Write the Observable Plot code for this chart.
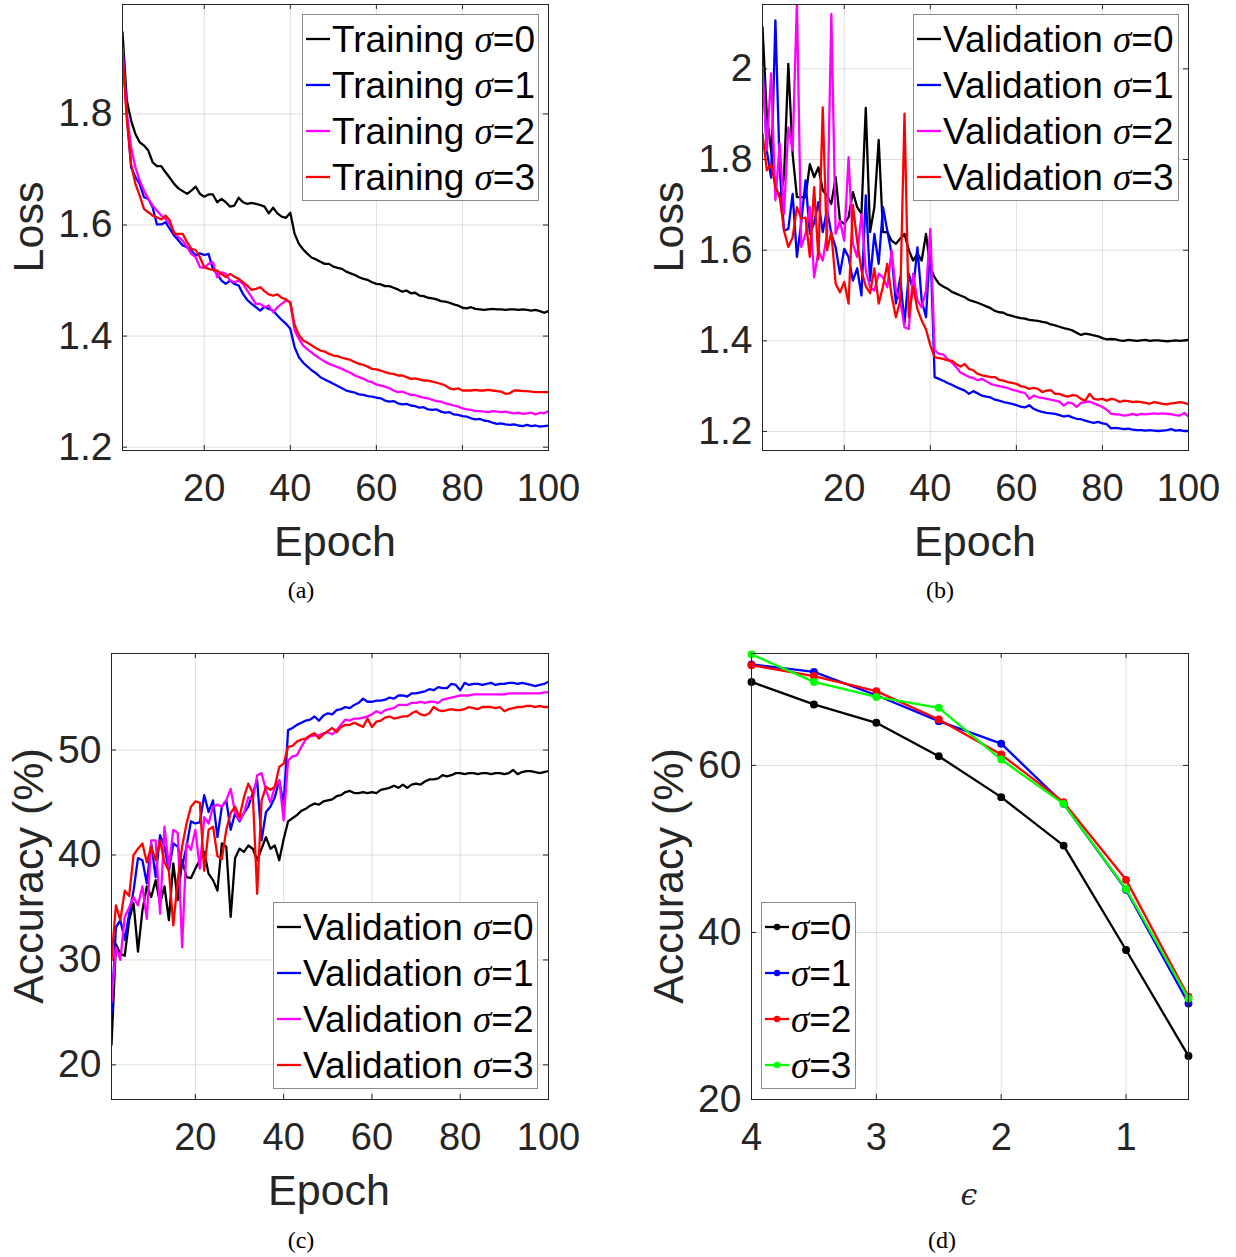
<!DOCTYPE html>
<html><head><meta charset="utf-8">
<script src="https://cdn.jsdelivr.net/npm/d3@7"></script>
<script src="https://cdn.jsdelivr.net/npm/@observablehq/plot@0.6"></script>
<style>
body{margin:0;background:#fff;}
#fig{position:relative;width:1236px;height:1257px;overflow:hidden;font-family:"Liberation Sans",Arial,sans-serif;color:#262626;background:#fff;}
.pn{position:absolute;}
.lab{position:absolute;font-size:43px;white-space:nowrap;line-height:1;transform:translate(-50%,-50%);}
.ylab{transform:translate(-50%,-50%) rotate(-90deg);}
.cap{position:absolute;font-family:"Liberation Serif","DejaVu Serif",serif;font-size:24px;color:#000;line-height:1;transform:translate(-50%,-50%);}
.eps{position:absolute;font-family:"DejaVu Serif",serif;font-style:italic;font-size:30px;color:#262626;line-height:1;transform:translate(-50%,-50%);}
.leg{position:absolute;background:#fff;border:1px solid #8c8c8c;box-sizing:border-box;}
.row{position:absolute;left:0;height:46px;display:flex;align-items:center;font-size:37px;color:#000;white-space:nowrap;line-height:1;}
.sig{font-family:"Liberation Serif","DejaVu Serif",serif;font-style:italic;}
</style></head>
<body><div id="fig"></div>
<script>
// ---------------- data ----------------
const epochs = d3.range(1, 101);

const trainS0 = [1.947,1.824,1.788,1.764,1.749,1.743,1.734,1.713,1.706,1.706,
1.695,1.685,1.674,1.666,1.661,1.656,1.662,1.669,1.656,1.651,
1.655,1.655,1.641,1.647,1.641,1.633,1.635,1.649,1.641,1.638,
1.640,1.638,1.636,1.633,1.621,1.631,1.621,1.615,1.613,1.622,
1.584,1.566,1.556,1.548,1.541,1.538,1.534,1.530,1.530,1.525,
1.523,1.521,1.516,1.513,1.510,1.506,1.503,1.501,1.497,1.494,
1.493,1.490,1.490,1.487,1.484,1.480,1.482,1.477,1.478,1.473,
1.472,1.469,1.468,1.466,1.463,1.462,1.460,1.457,1.455,1.451,
1.450,1.452,1.449,1.448,1.447,1.448,1.449,1.448,1.448,1.447,
1.448,1.448,1.447,1.448,1.447,1.446,1.447,1.445,1.442,1.445];

const trainS1 = [1.921,1.800,1.704,1.686,1.674,1.650,1.647,1.632,1.601,1.601,
1.605,1.593,1.581,1.572,1.563,1.560,1.554,1.545,1.549,1.546,
1.548,1.521,1.512,1.500,1.494,1.500,1.494,1.491,1.476,1.465,
1.458,1.452,1.446,1.453,1.449,1.446,1.437,1.429,1.422,1.413,
1.380,1.362,1.352,1.345,1.338,1.333,1.326,1.322,1.318,1.314,
1.310,1.306,1.302,1.300,1.298,1.295,1.294,1.292,1.291,1.289,
1.288,1.284,1.282,1.283,1.279,1.277,1.278,1.275,1.274,1.271,
1.272,1.268,1.267,1.268,1.264,1.262,1.263,1.259,1.258,1.256,
1.255,1.252,1.250,1.251,1.248,1.247,1.244,1.242,1.243,1.241,
1.240,1.241,1.239,1.238,1.240,1.238,1.239,1.237,1.238,1.239];

const trainS2 = [1.918,1.800,1.740,1.704,1.680,1.662,1.647,1.635,1.626,1.617,
1.611,1.602,1.587,1.578,1.572,1.560,1.548,1.542,1.524,1.523,
1.530,1.533,1.506,1.515,1.512,1.500,1.497,1.500,1.494,1.482,
1.470,1.458,1.458,1.452,1.455,1.443,1.452,1.458,1.464,1.461,
1.410,1.395,1.383,1.376,1.370,1.364,1.359,1.354,1.350,1.347,
1.344,1.341,1.337,1.334,1.329,1.326,1.323,1.319,1.317,1.313,
1.311,1.309,1.306,1.302,1.299,1.300,1.297,1.294,1.294,1.291,
1.289,1.288,1.285,1.283,1.282,1.279,1.277,1.275,1.273,1.270,
1.268,1.267,1.265,1.265,1.264,1.263,1.265,1.264,1.263,1.264,
1.262,1.261,1.262,1.260,1.261,1.262,1.259,1.262,1.261,1.265];

const trainS3 = [1.910,1.790,1.710,1.674,1.653,1.629,1.623,1.617,1.614,1.610,
1.617,1.608,1.584,1.584,1.584,1.569,1.557,1.555,1.542,1.524,
1.521,1.519,1.518,1.512,1.506,1.512,1.507,1.503,1.497,1.491,
1.483,1.485,1.488,1.481,1.475,1.473,1.475,1.469,1.466,1.460,
1.420,1.402,1.392,1.388,1.383,1.378,1.374,1.372,1.368,1.365,
1.364,1.361,1.359,1.357,1.353,1.350,1.348,1.345,1.341,1.340,
1.338,1.335,1.333,1.332,1.329,1.329,1.326,1.323,1.324,1.322,
1.320,1.320,1.318,1.316,1.314,1.311,1.306,1.304,1.306,1.302,
1.302,1.302,1.303,1.302,1.302,1.303,1.302,1.301,1.300,1.296,
1.297,1.302,1.302,1.301,1.301,1.300,1.299,1.299,1.299,1.299];

const valLossS0 = [2.092,1.900,1.820,1.740,1.717,1.760,2.011,1.812,1.717,1.717,
1.717,1.790,1.761,1.783,1.732,1.720,1.702,1.761,1.665,1.658,
1.673,1.728,1.695,1.680,1.914,1.640,1.695,1.843,1.640,1.640,
1.621,1.614,1.625,1.636,1.600,1.577,1.592,1.577,1.636,1.562,
1.540,1.526,1.520,1.515,1.508,1.504,1.500,1.496,1.490,1.487,
1.484,1.480,1.476,1.472,1.466,1.463,1.462,1.457,1.455,1.452,
1.450,1.449,1.446,1.445,1.444,1.442,1.440,1.436,1.434,1.431,
1.428,1.426,1.423,1.418,1.413,1.416,1.414,1.412,1.410,1.406,
1.403,1.404,1.403,1.401,1.400,1.402,1.401,1.400,1.401,1.402,
1.400,1.401,1.401,1.400,1.399,1.400,1.401,1.400,1.401,1.402];

const valLossS1 = [2.015,1.820,1.760,2.107,1.780,1.643,1.647,1.724,1.585,1.660,
1.754,1.636,1.660,1.706,1.640,1.690,1.636,1.606,1.548,1.603,
1.585,1.533,1.560,1.500,1.721,1.533,1.636,1.570,1.695,1.643,
1.592,1.482,1.540,1.438,1.548,1.511,1.606,1.489,1.452,1.621,
1.320,1.316,1.312,1.307,1.303,1.298,1.294,1.290,1.283,1.289,
1.284,1.279,1.277,1.275,1.270,1.268,1.265,1.263,1.261,1.258,
1.255,1.253,1.258,1.250,1.246,1.243,1.241,1.240,1.239,1.236,
1.233,1.235,1.231,1.228,1.227,1.224,1.221,1.219,1.221,1.218,
1.216,1.207,1.208,1.207,1.205,1.206,1.204,1.203,1.203,1.202,
1.203,1.202,1.201,1.202,1.203,1.205,1.202,1.203,1.201,1.201];

const valLossS2 = [2.004,1.820,1.990,1.710,1.835,1.680,1.871,1.820,2.150,1.607,
1.636,1.695,1.540,1.599,1.577,1.636,2.121,1.636,1.665,1.621,
1.805,1.614,1.585,1.680,1.555,1.518,1.511,1.548,1.540,1.518,
1.599,1.511,1.489,1.430,1.426,1.548,1.489,1.474,1.511,1.647,
1.379,1.371,1.370,1.360,1.352,1.342,1.330,1.325,1.320,1.318,
1.313,1.316,1.311,1.305,1.302,1.300,1.298,1.296,1.292,1.290,
1.287,1.285,1.272,1.279,1.276,1.274,1.272,1.270,1.268,1.266,
1.257,1.264,1.262,1.254,1.263,1.265,1.266,1.262,1.258,1.254,
1.248,1.239,1.238,1.237,1.235,1.236,1.239,1.236,1.239,1.238,
1.239,1.240,1.239,1.240,1.239,1.238,1.236,1.235,1.241,1.233];

const valLossS3 = [1.857,1.776,1.790,1.739,1.717,1.643,1.607,1.628,1.695,1.670,
1.672,1.585,1.739,1.580,1.915,1.600,1.640,1.526,1.507,1.530,
1.482,1.700,1.620,1.555,1.520,1.505,1.560,1.482,1.520,1.570,
1.500,1.452,1.489,1.901,1.452,1.520,1.470,1.445,1.425,1.390,
1.364,1.362,1.360,1.357,1.356,1.349,1.343,1.349,1.338,1.335,
1.327,1.324,1.322,1.320,1.320,1.314,1.312,1.309,1.307,1.305,
1.300,1.298,1.294,1.296,1.294,1.287,1.290,1.291,1.283,1.283,
1.279,1.277,1.280,1.279,1.272,1.268,1.283,1.272,1.270,1.272,
1.268,1.272,1.270,1.265,1.268,1.267,1.265,1.266,1.265,1.263,
1.261,1.265,1.263,1.261,1.260,1.262,1.263,1.265,1.263,1.260];

const valAccS0 = [21.9,31.5,30.6,30.4,33.8,35.4,30.8,34.7,37.0,36.0,
37.6,35.4,37.0,33.8,39.2,35.7,39.5,37.9,37.8,38.7,
39.5,40.3,38.2,37.6,36.6,41.1,40.8,34.1,39.7,40.6,
40.3,40.9,40.6,39.5,40.6,41.7,40.6,40.9,39.5,41.5,
43.2,43.5,43.8,44.2,44.4,44.7,44.9,44.8,45.1,45.2,
45.3,45.6,45.7,46.0,46.1,45.9,45.9,46.0,45.9,46.0,
45.9,46.2,46.3,46.4,46.6,46.4,46.7,46.4,46.7,46.8,
46.7,47.0,47.2,47.2,47.3,47.6,47.5,47.6,47.8,47.8,
47.7,47.8,47.8,47.7,47.8,47.8,47.7,47.8,47.8,47.7,
47.8,48.1,47.7,47.9,48.0,48.0,47.9,47.8,47.9,48.0];

const valAccS1 = [24.9,33.1,33.8,31.9,34.4,36.6,39.7,39.5,37.3,41.1,
37.9,41.9,40.8,38.5,41.1,40.8,38.9,40.8,43.2,43.0,
43.1,45.7,44.1,45.2,41.7,44.6,45.2,42.4,44.0,43.2,
44.0,44.6,45.9,47.1,41.4,44.1,44.6,45.5,47.1,44.8,
51.9,52.1,52.4,52.6,52.8,52.9,53.2,52.8,53.3,53.5,
53.4,53.8,53.9,54.1,54.0,54.3,54.5,54.9,54.6,54.6,
54.7,54.7,54.8,55.0,54.9,55.2,55.2,55.1,55.4,55.4,
55.5,55.6,55.8,55.7,56.0,55.9,55.9,56.3,56.2,55.7,
56.4,56.2,56.3,56.3,56.2,56.3,56.4,56.2,56.3,56.3,
56.4,56.4,56.3,56.4,56.3,56.2,56.1,56.2,56.3,56.5];

const valAccS2 = [26.0,31.2,30.0,34.1,35.0,36.0,35.2,37.0,33.9,41.4,
41.4,34.4,42.7,38.9,42.4,42.1,31.2,41.1,40.5,42.4,
38.7,43.6,43.0,44.6,44.8,44.6,45.2,46.3,44.0,43.3,
44.0,45.5,45.3,47.6,47.8,46.2,45.0,46.5,47.1,43.3,
49.0,49.4,49.5,50.3,51.0,51.3,51.4,51.4,51.6,51.7,
51.5,51.9,52.4,52.9,52.8,53.0,53.0,53.1,53.2,53.4,
53.7,53.5,53.8,53.9,54.0,54.3,54.3,54.3,54.5,54.5,
54.6,54.5,54.6,54.6,54.5,54.8,54.9,55.0,55.1,55.2,
55.2,55.2,55.3,55.3,55.3,55.3,55.3,55.3,55.3,55.3,
55.4,55.4,55.4,55.4,55.4,55.4,55.4,55.4,55.5,55.5];

const valAccS3 = [30.0,35.2,33.8,36.6,36.1,40.0,40.6,41.1,39.3,40.8,
39.5,41.4,39.3,38.5,33.3,37.6,40.8,43.0,44.6,45.1,
45.0,38.5,42.4,42.7,39.9,39.6,42.4,44.0,44.6,43.6,
45.5,46.8,45.9,36.3,45.2,46.5,46.2,46.5,48.4,48.7,
50.3,50.4,50.8,51.0,51.1,51.4,51.6,51.1,51.5,51.8,
52.1,51.7,52.2,52.4,52.4,52.6,52.4,52.2,53.0,52.2,
52.7,52.8,53.1,53.2,53.0,53.1,53.2,53.2,53.5,53.7,
53.4,53.3,53.5,54.1,53.8,53.7,53.8,53.9,53.8,53.8,
53.9,54.1,54.0,53.9,54.1,54.1,54.1,54.0,54.1,53.7,
53.9,54.0,54.1,54.1,54.2,54.2,54.1,54.2,54.1,54.1];

const epsValues = [4, 3.5, 3, 2.5, 2, 1.5, 1, 0.5];
const advAccS0 = [70.0, 67.3, 65.1, 61.1, 56.2, 50.4, 37.9, 25.2];
const advAccS1 = [72.1, 71.2, 68.4, 65.3, 62.6, 55.4, 45.1, 31.5];
const advAccS2 = [72.0, 70.7, 68.9, 65.5, 61.3, 55.6, 46.3, 32.3];
const advAccS3 = [73.3, 70.0, 68.2, 66.9, 60.7, 55.4, 45.2, 32.1];

const epochTicks = [20, 40, 60, 80, 100];
const lossTicksA = [1.2, 1.4, 1.6, 1.8];
const lossTicksB = [1.2, 1.4, 1.6, 1.8, 2];
const accTicksC = [20, 30, 40, 50];
const epsTicks = [4, 3, 2, 1];
const accTicksD = [20, 40, 60];
const sigmaLabels = ["0", "1", "2", "3"];

// ---------------- styles ----------------
const col4 = ["#000000", "#0000ff", "#ff00ff", "#ff0000"];
const colD = ["#000000", "#0000ff", "#ff0000", "#00ff00"];

const toRows = (xs, ys) => ys.map((y, i) => ({x: xs[i], y}));

function makePanel(cfg) {
  const {w, h, ml, mr, mt, mb, xdom, ydom, xt, yt, yfmt, series, clip, dots} = cfg;
  const pw = w - ml - mr, ph = h - mt - mb;
  const xs = d3.scaleLinear().domain(xdom).range([0, pw]);
  const ys = d3.scaleLinear().domain(ydom).range([ph, 0]);
  const T = 5;
  const tk = {stroke: "#262626", strokeWidth: 1};
  const marks = [
    Plot.gridX(xt, {stroke: "#000", strokeOpacity: 0.13}),
    Plot.gridY(yt, {stroke: "#000", strokeOpacity: 0.13}),
    Plot.ruleX(xt, {x: d => d, y1: ydom[0], y2: ys.invert(ph - T), ...tk}),
    Plot.ruleX(xt, {x: d => d, y1: ydom[1], y2: ys.invert(T), ...tk}),
    Plot.ruleY(yt, {y: d => d, x1: xdom[0], x2: xs.invert(T), ...tk}),
    Plot.ruleY(yt, {y: d => d, x1: xdom[1], x2: xs.invert(pw - T), ...tk}),
    Plot.axisX(xt, {anchor: "bottom", tickSize: 0, tickPadding: 24, fontSize: 38, tickFormat: d => String(d), label: null}),
    Plot.axisY(yt, {anchor: "left", tickSize: 0, tickPadding: 10, fontSize: 39, tickFormat: yfmt, label: null})
  ];
  series.forEach(s => {
    marks.push(Plot.line(s.data, {x: "x", y: "y", stroke: s.color, strokeWidth: 2.3, clip}));
    if (dots) marks.push(Plot.dot(s.data, {x: "x", y: "y", fill: s.color, stroke: s.color, r: 3.2}));
  });
  marks.push(Plot.frame({stroke: "#262626", strokeWidth: 1}));
  return Plot.plot({
    width: w, height: h,
    marginLeft: ml, marginRight: mr, marginTop: mt, marginBottom: mb,
    x: {domain: xdom}, y: {domain: ydom},
    style: {fontFamily: "'Liberation Sans', Arial, sans-serif", color: "#262626", background: "transparent", overflow: "visible"},
    marks
  });
}

const fig = document.getElementById("fig");
function place(node, left, top) {
  const d = document.createElement("div");
  d.className = "pn";
  d.style.left = left + "px"; d.style.top = top + "px";
  d.appendChild(node);
  fig.appendChild(d);
}
function text(cls, str, x, y) {
  const d = document.createElement("div");
  d.className = cls;
  d.style.left = x + "px"; d.style.top = y + "px";
  d.textContent = str;
  fig.appendChild(d);
}
function legend(left, top, width, prefix, colors, marker) {
  const box = document.createElement("div");
  box.className = "leg";
  Object.assign(box.style, {left: left + "px", top: top + "px", width: width + "px", height: "187px"});
  sigmaLabels.forEach((s, i) => {
    const row = document.createElement("div");
    row.className = "row";
    row.style.top = (1 + i * 46) + "px";
    row.innerHTML = `<svg width="26" height="10" style="margin-left:2px;margin-right:1px;flex:none"><line x1="1" x2="25" y1="5" y2="5" stroke="${colors[i]}" stroke-width="2.3"/>` +
      (marker ? `<circle cx="13" cy="5" r="3.2" fill="${colors[i]}"/>` : "") +
      `</svg><span>${prefix}<span class="sig">σ</span>=${s}</span>`;
    box.appendChild(row);
  });
  fig.appendChild(box);
}

// (a)
place(makePanel({w: 618, h: 620, ml: 122, mr: 70, mt: 4, mb: 170,
  xdom: [1, 100], ydom: [1.194, 1.997], xt: epochTicks, yt: lossTicksA, yfmt: d => d.toFixed(1), clip: true,
  series: [trainS0, trainS1, trainS2, trainS3].map((a, i) => ({data: toRows(epochs, a), color: col4[i]}))}), 0, 0);
// (b)
place(makePanel({w: 618, h: 620, ml: 144, mr: 48, mt: 4, mb: 170,
  xdom: [1, 100], ydom: [1.158, 2.142], xt: epochTicks, yt: lossTicksB, yfmt: d => String(d), clip: true,
  series: [valLossS0, valLossS1, valLossS2, valLossS3].map((a, i) => ({data: toRows(epochs, a), color: col4[i]}))}), 618, 0);
// (c)
place(makePanel({w: 618, h: 637, ml: 111, mr: 70, mt: 33, mb: 158,
  xdom: [1, 100], ydom: [16.7, 59.2], xt: epochTicks, yt: accTicksC, yfmt: d => String(d), clip: true,
  series: [valAccS0, valAccS1, valAccS2, valAccS3].map((a, i) => ({data: toRows(epochs, a), color: col4[i]}))}), 0, 620);
// (d)
place(makePanel({w: 618, h: 637, ml: 133, mr: 48, mt: 33, mb: 158,
  xdom: [4, 0.5], ydom: [20, 73.4], xt: epsTicks, yt: accTicksD, yfmt: d => String(d), clip: false, dots: true,
  series: [advAccS0, advAccS1, advAccS2, advAccS3].map((a, i) => ({data: toRows(epsValues, a), color: colD[i]}))}), 618, 620);

// axis labels & captions
text("lab", "Epoch", 335, 541);
text("lab", "Epoch", 975, 541);
text("lab", "Epoch", 329, 1190);
text("eps", "ϵ", 969, 1195);
text("lab ylab", "Loss", 28, 227);
text("lab ylab", "Loss", 668, 227);
text("lab ylab", "Accuracy (%)", 28, 876);
text("lab ylab", "Accuracy (%)", 668, 876);
text("cap", "(a)", 301, 590);
text("cap", "(b)", 940, 590);
text("cap", "(c)", 301, 1240);
text("cap", "(d)", 942, 1240);

// legends
legend(302, 14, 237, "Training ", col4, false);
legend(913, 14, 266, "Validation ", col4, false);
legend(273, 902, 265, "Validation ", col4, false);
legend(761, 902, 95, "", colD, true);
</script></body></html>
